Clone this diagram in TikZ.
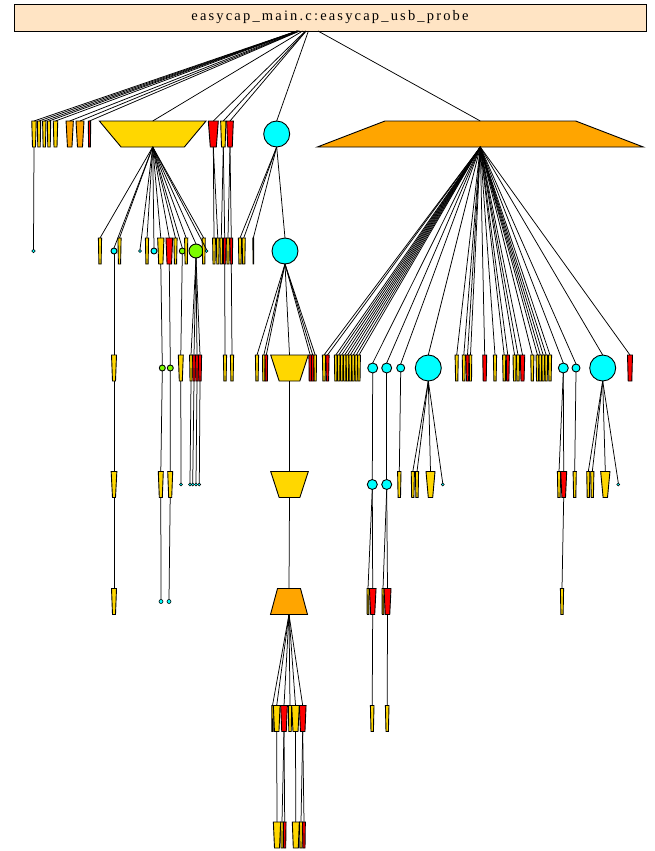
\documentclass[tikz,border=0pt]{standalone}
\usepackage{fontspec}
\setmainfont{Liberation Serif}
\usetikzlibrary{calc}
\definecolor{gold}{HTML}{FFD700}
\definecolor{orng}{HTML}{FFA500}
\definecolor{cyn}{HTML}{00FFFF}
\definecolor{grn}{HTML}{7CFC00}
\definecolor{bsq}{HTML}{FFE4C4}
\definecolor{rd}{HTML}{FF0000}
\tikzset{
 nd/.style={draw=black,line width=0.9pt,line join=miter},
 ed/.style={draw=black,line width=0.75pt},
 cnode/.style={circle,draw=black,line width=0.9pt,fill=cyn,inner sep=0pt,outer sep=0pt},
 gnode/.style={cnode,fill=grn},
 dotnode/.style={cnode,line width=0.6pt,minimum size=3},
}
\newcommand\Tz[7]{%
 \path[nd,fill=#7] ({#2-(#4)/2},{#3-(#6)/2}) -- ({#2+(#4)/2},{#3-(#6)/2}) -- ({#2+(#5)/2},{#3+(#6)/2}) -- ({#2-(#5)/2},{#3+(#6)/2}) -- cycle;
 \node[inner sep=0pt,outer sep=0pt,minimum width=#4,minimum height=#6] (#1) at (#2,#3) {};}
\newcommand\Th[4]{\Tz{#1}{#2}{#3}{3.2}{2.2}{26}{#4}}
\begin{document}
\begin{tikzpicture}[x=1pt,y=-1pt]
\useasboundingbox (0,0) rectangle (654,851);
\node[draw=black,fill=bsq,line width=0.9pt,minimum width=632,minimum height=27,inner sep=0pt,outer sep=0pt] (root) at (330,17.5)
 {\fontsize{14.5}{16}\selectfont\addfontfeature{LetterSpace=15}easycap\_main.c:easycap\_usb\_probe};
% rank 1
\Tz{a1}{34}{134}{4.5}{3}{26}{gold}
\Tz{a2}{39}{134}{3.4}{2.4}{26}{gold}
\Tz{a3}{44.3}{134}{3.4}{2.4}{26}{gold}
\Tz{a4}{49}{134}{3.4}{2.4}{26}{gold}
\Tz{a5}{55.5}{134}{4.5}{3}{26}{gold}
\Tz{a6}{69.7}{134}{7.3}{4.5}{26}{orng}
\Tz{a7}{80}{134}{8}{5}{26}{orng}
\Tz{a8}{89.5}{134}{2.4}{1.8}{26}{rd}
\Tz{G1}{152.7}{134}{106.7}{63.3}{26}{gold}
\Tz{r1a}{213.3}{134}{10}{6}{26}{rd}
\Tz{r1b}{223.3}{134}{5.3}{3.6}{26}{gold}
\Tz{r1c}{230}{134}{6.7}{4.5}{26}{rd}
\node[cnode,minimum size=26] (C1) at (276.7,134) {};
\Tz{O1}{480.3}{134}{190.7}{326}{26}{orng}
% rank 2
\node[dotnode,minimum size=3.6] (b0) at (33.5,251) {};
\Th{b1}{100}{251}{gold}
\node[cnode,minimum size=6] (b2) at (114,251) {};
\Th{b3}{119.5}{251}{gold}
\node[dotnode] (b4) at (140,251) {};
\Th{b5}{147}{251}{gold}
\node[cnode,minimum size=6] (b6) at (154,251) {};
\Tz{b7}{160.8}{251}{6.3}{4.2}{26}{gold}
\Tz{b8}{169.3}{251}{6.7}{4.5}{26}{rd}
\Th{b9}{175.5}{251}{gold}
\node[gnode,minimum size=6] (b10) at (182.3,251) {};
\Th{b11}{186.2}{251}{gold}
\node[gnode,minimum size=14] (b12) at (196,251) {};
\Th{b13}{203.7}{251}{gold}
\node[dotnode] (b14) at (206.5,251) {};
\Tz{c1}{214}{251}{2.8}{2}{26}{gold}
\Tz{c2}{217.8}{251}{2.8}{2}{26}{gold}
\Tz{c3}{221.3}{251}{2.8}{2}{26}{gold}
\Tz{c4}{224.7}{251}{2.8}{2}{26}{rd}
\Tz{c5}{228}{251}{2.8}{2}{26}{gold}
\Tz{c6}{231.3}{251}{2.8}{2}{26}{rd}
\Th{b15}{240}{251}{gold}
\Th{b16}{243.7}{251}{gold}
\Tz{b17}{253.3}{251}{0.8}{0.6}{26}{gold}
\node[cnode,minimum size=26] (C2) at (285,251) {};
% rank 3
\Tz{d1}{114}{368}{5}{3}{26}{gold}
\node[gnode,minimum size=6] (d2) at (162.3,368) {};
\node[gnode,minimum size=6] (d3) at (170.3,368) {};
\Tz{d4}{180.8}{368}{5}{3}{26}{gold}
\Tz{d5}{191}{368}{2.8}{2}{26}{gold}
\Tz{d6}{194}{368}{2.8}{2}{26}{rd}
\Tz{d7}{197}{368}{2.8}{2}{26}{rd}
\Tz{d8}{200}{368}{3.2}{2.2}{26}{rd}
\Th{d9}{225}{368}{gold}
\Th{d10}{232}{368}{gold}
\Th{d11}{257}{368}{gold}
\Tz{d12}{263.8}{368}{2.6}{2}{26}{gold}
\Tz{d13}{266.3}{368}{2.6}{2}{26}{rd}
\Tz{G3}{289.5}{368}{37.6}{20.7}{26}{gold}
\Tz{d14}{310.2}{368}{2.6}{2}{26}{rd}
\Tz{d15}{312.7}{368}{2.6}{2}{26}{rd}
\Tz{d16}{315.2}{368}{2.6}{2}{26}{gold}
\Th{e1}{324}{368}{gold}
\Th{e2}{327.5}{368}{rd}
\Tz{e3}{335.8}{368}{2.8}{2}{26}{gold}
\Tz{e4}{338.7}{368}{2.8}{2}{26}{gold}
\Tz{e5}{341.7}{368}{2.8}{2}{26}{gold}
\Tz{e6}{344.7}{368}{2.8}{2}{26}{gold}
\Tz{e7}{347.5}{368}{2.8}{2}{26}{gold}
\Tz{e8}{350.3}{368}{2.8}{2}{26}{gold}
\Tz{e9}{353.2}{368}{2.8}{2}{26}{gold}
\Tz{e10}{356.2}{368}{2.8}{2}{26}{gold}
\Tz{e11}{359}{368}{2.8}{2}{26}{gold}
\node[cnode,minimum size=10] (C3a) at (372.7,368) {};
\node[cnode,minimum size=10] (C3b) at (386.7,368) {};
\node[cnode,minimum size=8] (C3c) at (400.7,368) {};
\node[cnode,minimum size=26] (C3d) at (428.3,368) {};
\Th{f1}{456.7}{368}{gold}
\Th{f2}{463.8}{368}{gold}
\Th{f3}{467.5}{368}{rd}
\Tz{f4}{470.5}{368}{2.6}{2}{26}{gold}
\Tz{f5}{484.7}{368}{4}{3}{26}{rd}
\Th{f6}{495}{368}{gold}
\Th{f7}{504.2}{368}{gold}
\Th{f8}{507.8}{368}{rd}
\Th{f9}{514.6}{368}{gold}
\Th{f10}{518}{368}{gold}
\Tz{f11}{522.5}{368}{4.5}{3}{26}{rd}
\Th{f12}{532.3}{368}{gold}
\Tz{f13}{537.5}{368}{2.8}{2}{26}{gold}
\Tz{f14}{540.3}{368}{2.8}{2}{26}{gold}
\Tz{f15}{543.2}{368}{2.8}{2}{26}{gold}
\Tz{f16}{546.2}{368}{2.8}{2}{26}{gold}
\Tz{f17}{550}{368}{3.2}{2.2}{26}{gold}
\node[cnode,minimum size=10] (C3e) at (563.3,368) {};
\node[cnode,minimum size=8] (C3f) at (576,368) {};
\node[cnode,minimum size=26] (C3g) at (602.7,368) {};
\Tz{f18}{630}{368}{5}{3.6}{26}{rd}
% rank 4
\Tz{g1}{114}{484.5}{5.7}{3}{26}{gold}
\Tz{g2}{160.8}{484.5}{5}{3}{26}{gold}
\Tz{g3}{170.2}{484.5}{5}{3}{26}{gold}
\node[dotnode] (h1) at (181,484.5) {};
\node[dotnode] (h2) at (190,484.5) {};
\node[dotnode] (h3) at (192.7,484.5) {};
\node[dotnode] (h4) at (196,484.5) {};
\node[dotnode] (h5) at (199.3,484.5) {};
\Tz{G4}{289.5}{484.5}{37.6}{20.7}{26}{gold}
\node[cnode,minimum size=10] (C4a) at (372.3,484.5) {};
\node[cnode,minimum size=10] (C4b) at (386.7,484.5) {};
\Tz{g4}{399.3}{484.5}{3.4}{2.4}{26}{gold}
\Th{g5}{412.8}{484.5}{gold}
\Th{g6}{417}{484.5}{gold}
\Tz{g7}{430.5}{484.5}{9}{4.4}{26}{gold}
\node[dotnode] (h6) at (442.7,484.5) {};
\Th{g8}{559}{484.5}{gold}
\Tz{g9}{563.7}{484.5}{6}{3.6}{26}{rd}
\Th{g10}{574.7}{484.5}{gold}
\Th{g11}{588.3}{484.5}{gold}
\Th{g12}{592.3}{484.5}{gold}
\Tz{g13}{605.3}{484.5}{9.3}{4.4}{26}{gold}
\node[dotnode] (h7) at (618.3,484.5) {};
% rank 5
\Tz{k1}{114}{601.5}{5}{3}{26}{gold}
\node[cnode,line width=0.6pt,minimum size=4] (k2) at (161,601.5) {};
\node[cnode,line width=0.6pt,minimum size=4] (k3) at (169,601.5) {};
\Tz{O5}{289}{601.5}{23}{37}{26}{orng}
\Tz{k4}{368}{601.5}{2}{1.6}{26}{gold}
\Tz{k5}{372.7}{601.5}{6.7}{4}{26}{rd}
\Tz{k6}{383}{601.5}{2}{1.6}{26}{gold}
\Tz{k7}{387.5}{601.5}{7}{4.5}{26}{rd}
\Th{k8}{562}{601.5}{gold}
% rank 6
\Tz{m1}{372.2}{718.5}{3.6}{2.4}{26}{gold}
\Tz{m2}{387.2}{718.5}{3.6}{2.4}{26}{gold}
\Tz{n1}{272.5}{718.5}{1.6}{1.2}{26}{gold}
\Tz{n2}{276.7}{718.5}{6.7}{4.5}{26}{gold}
\Tz{n3}{284}{718.5}{6.7}{4.5}{26}{rd}
\Tz{n4}{290}{718.5}{3.4}{2.4}{26}{gold}
\Tz{n5}{295.5}{718.5}{7.6}{5}{26}{gold}
\Tz{n6}{302.7}{718.5}{6.7}{4.5}{26}{rd}
% rank 7
\Tz{p1}{277}{835}{7.3}{5}{26}{gold}
\Tz{p2}{282}{835}{2.6}{2}{26}{gold}
\Tz{p3}{284.7}{835}{2.7}{2}{26}{rd}
\Tz{p4}{295.8}{835}{7}{5}{26}{gold}
\Tz{p5}{301}{835}{3}{2.2}{26}{gold}
\Tz{p6}{304}{835}{2.7}{2}{26}{rd}
% edges
\begin{scope}[on background layer/.style={}]
\foreach \c/\s in {a1/-33,a2/-32.8,a3/-32.6,a4/-32.4,a5/-32,a6/-31.3,a7/-30.8,a8/-30.4,G1/-27.4,r1a/-24.6,r1b/-24.1,r1c/-23.8,C1/-21.6,O1/-12}
  \draw[ed] ([xshift=\s]root.south) -- (\c.north);
\draw[ed] (a1.south) -- (b0.north);
\foreach \c in {b1,b2,b3,b4,b5,b6,b7,b8,b9,b10,b11,b12,b13,b14}
  \draw[ed] (G1.south) -- (\c.north);
\draw[ed] (r1a.south) -- (c1.north);
\draw[ed] (r1a.south) -- (c2.north);
\draw[ed] (r1b.south) -- (c3.north);
\draw[ed] (r1b.south) -- (c4.north);
\draw[ed] (r1c.south) -- (c5.north);
\draw[ed] (r1c.south) -- (c6.north);
\foreach \c in {b15,b16,b17,C2}
  \draw[ed] (C1.south) -- (\c.north);
\draw[ed] (b2.south) -- (d1.north);
\draw[ed] (b7.south) -- (d2.north);
\draw[ed] (b8.south) -- (d3.north);
\draw[ed] (b10.south) -- (d4.north);
\foreach \c in {d5,d6,d7,d8}
  \draw[ed] (b12.south) -- (\c.north);
\draw[ed] (c4.south) -- (d9.north);
\draw[ed] (c6.south) -- (d10.north);
\foreach \c in {d11,d12,d13,G3,d14,d15,d16}
  \draw[ed] (C2.south) -- (\c.north);
\foreach \c in {e1,e2,e3,e4,e5,e6,e7,e8,e9,e10,e11,C3a,C3b,C3c,C3d,f1,f2,f3,f4,f5,f6,f7,f8,f9,f10,f11,f12,f13,f14,f15,f16,f17,C3e,C3f,C3g,f18}
  \draw[ed] (O1.south) -- (\c.north);
\draw[ed] (d1.south) -- (g1.north);
\draw[ed] (d2.south) -- (g2.north);
\draw[ed] (d3.south) -- (g3.north);
\draw[ed] (d4.south) -- (h1.north);
\draw[ed] (d5.south) -- (h2.north);
\draw[ed] (d6.south) -- (h3.north);
\draw[ed] (d7.south) -- (h4.north);
\draw[ed] (d8.south) -- (h5.north);
\draw[ed] (G3.south) -- (G4.north);
\draw[ed] (C3a.south) -- (C4a.north);
\draw[ed] (C3b.south) -- (C4b.north);
\draw[ed] (C3c.south) -- (g4.north);
\foreach \c in {g5,g6,g7,h6}
  \draw[ed] (C3d.south) -- (\c.north);
\draw[ed] (C3e.south) -- (g8.north);
\draw[ed] (C3e.south) -- (g9.north);
\draw[ed] (C3f.south) -- (g10.north);
\foreach \c in {g11,g12,g13,h7}
  \draw[ed] (C3g.south) -- (\c.north);
\draw[ed] (g1.south) -- (k1.north);
\draw[ed] (g2.south) -- (k2.north);
\draw[ed] (g3.south) -- (k3.north);
\draw[ed] (G4.south) -- (O5.north);
\draw[ed] (C4a.south) -- (k4.north);
\draw[ed] (C4a.south) -- (k5.north);
\draw[ed] (C4b.south) -- (k6.north);
\draw[ed] (C4b.south) -- (k7.north);
\draw[ed] (g9.south) -- (k8.north);
\draw[ed] (k5.south) -- (m1.north);
\draw[ed] (k7.south) -- (m2.north);
\foreach \c in {n1,n2,n3,n4,n5,n6}
  \draw[ed] (O5.south) -- (\c.north);
\draw[ed] (n2.south) -- (p1.north);
\draw[ed] (n3.south) -- (p2.north);
\draw[ed] (n3.south) -- (p3.north);
\draw[ed] (n5.south) -- (p4.north);
\draw[ed] (n6.south) -- (p5.north);
\draw[ed] (n6.south) -- (p6.north);
\end{scope}
\end{tikzpicture}
\end{document}
